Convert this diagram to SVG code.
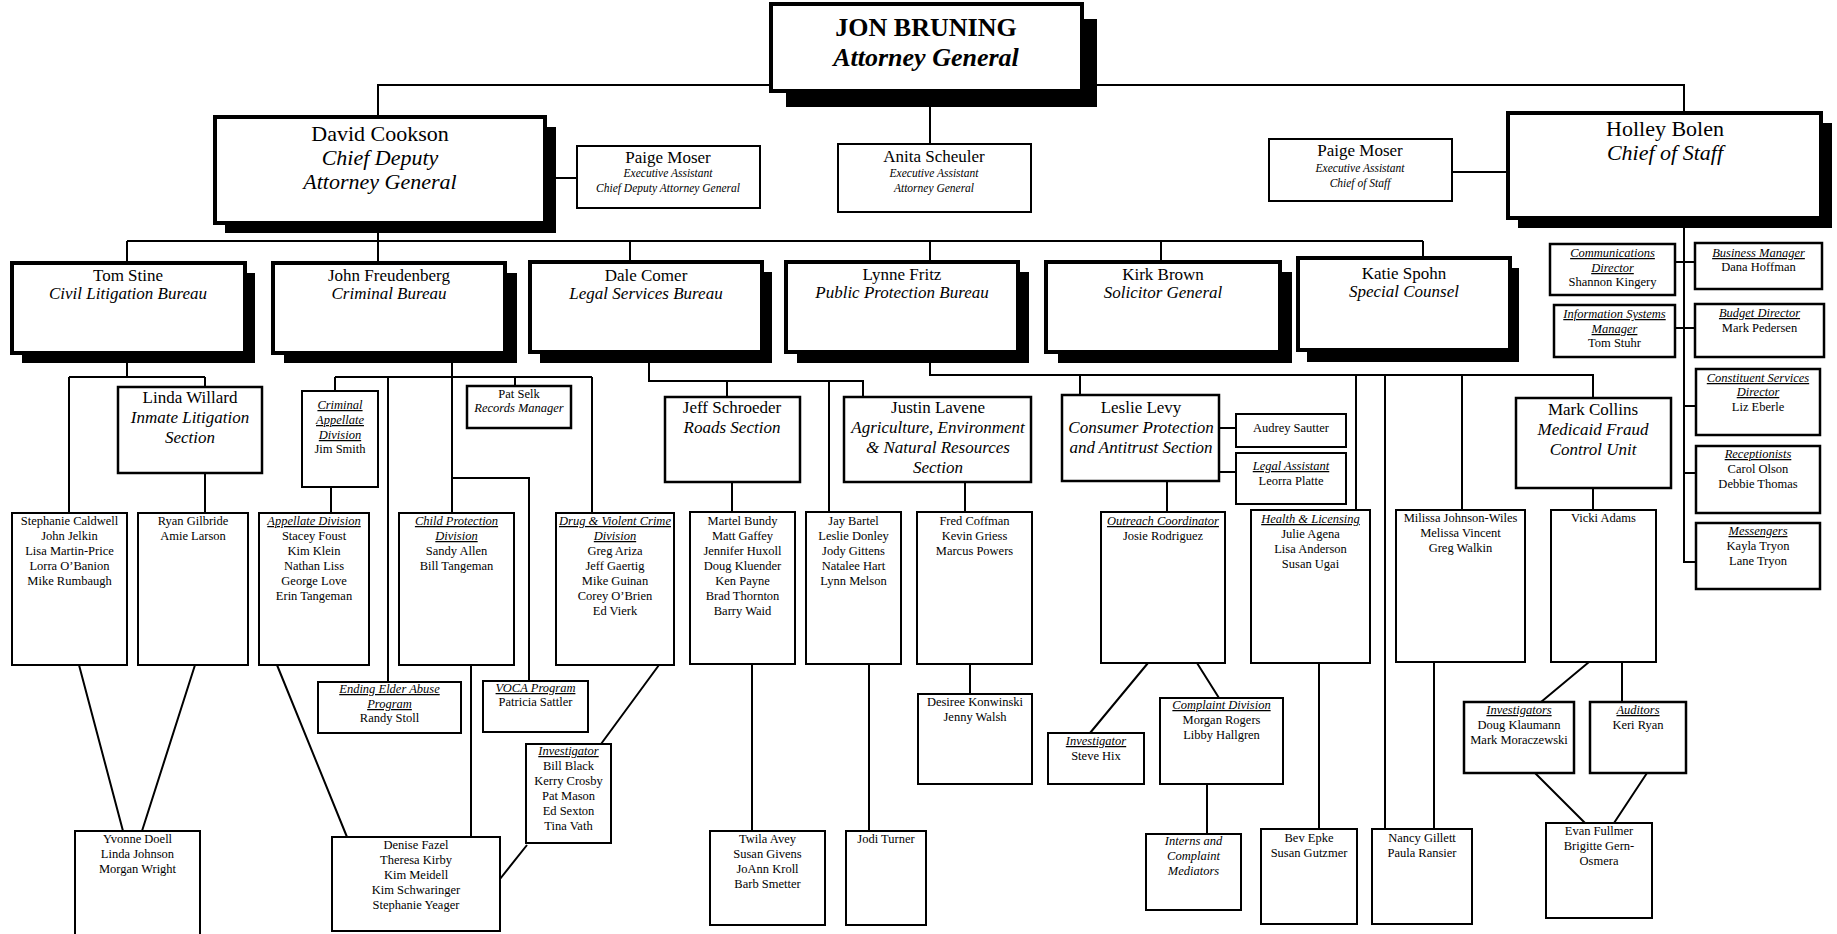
<svg xmlns="http://www.w3.org/2000/svg" width="1837" height="934" viewBox="0 0 1837 934">
<style>
text{font-family:"Liberation Serif","Times New Roman",serif;text-anchor:middle;fill:#000}
.b{fill:#fff;stroke:#000;stroke-width:4}
.m{fill:#fff;stroke:#000;stroke-width:2.5}
.s{fill:#fff;stroke:#000;stroke-width:2}
.sh{fill:#000}
.c{fill:none;stroke:#000;stroke-width:2}
.t26{font-size:26px;font-weight:bold}
.t22{font-size:22px}
.t17{font-size:17px}
.t12{font-size:12.5px}
.t11{font-size:11.5px;font-style:italic}
.i{font-style:italic}
.u{font-style:italic;text-decoration:underline}
</style>
<g id="connectors">
<path class="c" d="M378 117V85H1684V113M930 91V144M545 178H577M1452 172H1508M378 223V263M127 241H1423M127 241V263M630 241V262M930 241V262M1161 241V262M1423 241V258"/>
<path class="c" d="M127 353V377M69 377H205M69 377V513M205 377V387M205 473V513M79 665L123 831M195 665L142 831"/>
<path class="c" d="M452 353V513M335 377H592M335 377V391M388 377V682M515 377V386M592 377V513M452 478H529V681M331 487V513M277 665L347 837M471 665V837M659 665L601 744M527 845L500 879"/>
<path class="c" d="M649 350V381H863V397M727 381V397M829 381V512M732 482V512M965 482V512M752 664V831M869 664V831M970 664V694"/>
<path class="c" d="M930 352V375H1593V398M1080 375V395M1356 375V510M1385 375V829M1462 375V510M1167 481V512M1219 428H1236M1219 472H1236M1148 663L1090 733M1197 663L1219 698M1207 784V834M1319 663V829M1434 662V829"/>
<path class="c" d="M1593 488V510M1589 662L1541 702M1622 662V702M1535 773L1585 823M1647 773L1614 823"/>
<path class="c" d="M1684 218V562H1696M1675 262H1695M1675 328H1695M1684 406H1696M1684 473H1696"/>
</g>
<g id="bruning"><rect class="sh" x="786" y="19" width="311" height="88"/><rect class="b" x="771" y="4" width="311" height="87"/>
<text class="t26" x="926" y="36">JON BRUNING</text><text class="t26 i" x="926" y="66">Attorney General</text></g>
<g id="cookson"><rect class="sh" x="225" y="127" width="331" height="106"/><rect class="b" x="215" y="117" width="330" height="106"/>
<text class="t22" x="380" y="141">David Cookson</text><text class="t22 i" x="380" y="165">Chief Deputy</text><text class="t22 i" x="380" y="189">Attorney General</text></g>
<g id="moser1"><rect class="s" x="577" y="146" width="183" height="62"/>
<text class="t17" x="668" y="163">Paige Moser</text><text class="t11" x="668" y="177">Executive Assistant</text><text class="t11" x="668" y="192">Chief Deputy Attorney General</text></g>
<g id="scheuler"><rect class="s" x="838" y="144" width="193" height="68"/>
<text class="t17" x="934" y="162">Anita Scheuler</text><text class="t11" x="934" y="177">Executive Assistant</text><text class="t11" x="934" y="192">Attorney General</text></g>
<g id="moser2"><rect class="s" x="1269" y="139" width="183" height="62"/>
<text class="t17" x="1360" y="156">Paige Moser</text><text class="t11" x="1360" y="172">Executive Assistant</text><text class="t11" x="1360" y="187">Chief of Staff</text></g>
<g id="bolen"><rect class="sh" x="1518" y="123" width="314" height="105"/><rect class="b" x="1508" y="113" width="313" height="105"/>
<text class="t22" x="1665" y="136">Holley Bolen</text><text class="t22 i" x="1665" y="160">Chief of Staff</text></g>
<g id="stine"><rect class="sh" x="22" y="273" width="233" height="90"/><rect class="b" x="12" y="263" width="233" height="90"/>
<text class="t17" x="128" y="281">Tom Stine</text><text class="t17 i" x="128" y="299">Civil Litigation Bureau</text></g>
<g id="freudenberg"><rect class="sh" x="284" y="273" width="233" height="90"/><rect class="b" x="273" y="263" width="232" height="90"/>
<text class="t17" x="389" y="281">John Freudenberg</text><text class="t17 i" x="389" y="299">Criminal Bureau</text></g>
<g id="comer"><rect class="sh" x="540" y="272" width="232" height="91"/><rect class="b" x="530" y="262" width="232" height="90"/>
<text class="t17" x="646" y="281">Dale Comer</text><text class="t17 i" x="646" y="299">Legal Services Bureau</text></g>
<g id="fritz"><rect class="sh" x="797" y="272" width="232" height="91"/><rect class="b" x="786" y="262" width="232" height="90"/>
<text class="t17" x="902" y="280">Lynne Fritz</text><text class="t17 i" x="902" y="298">Public Protection Bureau</text></g>
<g id="brown"><rect class="sh" x="1058" y="272" width="234" height="91"/><rect class="b" x="1046" y="262" width="234" height="90"/>
<text class="t17" x="1163" y="280">Kirk Brown</text><text class="t17 i" x="1163" y="298">Solicitor General</text></g>
<g id="spohn"><rect class="sh" x="1307" y="268" width="212" height="94"/><rect class="b" x="1298" y="258" width="212" height="92"/>
<text class="t17" x="1404" y="279">Katie Spohn</text><text class="t17 i" x="1404" y="297">Special Counsel</text></g>
<g id="willard"><rect class="m" x="118" y="387" width="144" height="86"/>
<text class="t17" x="190" y="403">Linda Willard</text><text class="t17 i" x="190" y="423">Inmate Litigation</text><text class="t17 i" x="190" y="443">Section</text></g>
<g id="civil-staff"><rect class="s" x="12" y="513" width="115" height="152"/>
<text class="t12" x="69.5" y="525">Stephanie Caldwell</text><text class="t12" x="69.5" y="540">John Jelkin</text><text class="t12" x="69.5" y="555">Lisa Martin-Price</text><text class="t12" x="69.5" y="570">Lorra O’Banion</text><text class="t12" x="69.5" y="585">Mike Rumbaugh</text></g>
<g id="inmate-staff"><rect class="s" x="138" y="513" width="110" height="152"/>
<text class="t12" x="193" y="525">Ryan Gilbride</text><text class="t12" x="193" y="540">Amie Larson</text></g>
<g id="civil-support"><rect class="s" x="75" y="831" width="125" height="110"/>
<text class="t12" x="137.5" y="843">Yvonne Doell</text><text class="t12" x="137.5" y="858">Linda Johnson</text><text class="t12" x="137.5" y="873">Morgan Wright</text></g>
<g id="crim-appellate"><rect class="s" x="302" y="391" width="76" height="96"/>
<text class="t12 u" x="340" y="409">Criminal</text><text class="t12 u" x="340" y="424">Appellate</text><text class="t12 u" x="340" y="439">Division</text><text class="t12" x="340" y="453">Jim Smith</text></g>
<g id="selk"><rect class="m" x="467" y="386" width="104" height="42"/>
<text class="t12" x="519" y="398">Pat Selk</text><text class="t12 i" x="519" y="412">Records Manager</text></g>
<g id="appellate"><rect class="s" x="259" y="513" width="110" height="152"/>
<text class="t12 u" x="314" y="525">Appellate Division</text><text class="t12" x="314" y="540">Stacey Foust</text><text class="t12" x="314" y="555">Kim Klein</text><text class="t12" x="314" y="570">Nathan Liss</text><text class="t12" x="314" y="585">George Love</text><text class="t12" x="314" y="600">Erin Tangeman</text></g>
<g id="child-protection"><rect class="s" x="399" y="513" width="115" height="152"/>
<text class="t12 u" x="456.5" y="525">Child Protection</text><text class="t12 u" x="456.5" y="540">Division</text><text class="t12" x="456.5" y="555">Sandy Allen</text><text class="t12" x="456.5" y="570">Bill Tangeman</text></g>
<g id="drug-violent"><rect class="s" x="556" y="513" width="118" height="152"/>
<text class="t12 u" x="615" y="525">Drug &amp; Violent Crime</text><text class="t12 u" x="615" y="540">Division</text><text class="t12" x="615" y="555">Greg Ariza</text><text class="t12" x="615" y="570">Jeff Gaertig</text><text class="t12" x="615" y="585">Mike Guinan</text><text class="t12" x="615" y="600">Corey O’Brien</text><text class="t12" x="615" y="615">Ed Vierk</text></g>
<g id="elder-abuse"><rect class="s" x="318" y="682" width="143" height="51"/>
<text class="t12 u" x="389.5" y="693">Ending Elder Abuse</text><text class="t12 u" x="389.5" y="708">Program</text><text class="t12" x="389.5" y="722">Randy Stoll</text></g>
<g id="voca"><rect class="s" x="483" y="681" width="105" height="51"/>
<text class="t12 u" x="535.5" y="692">VOCA Program</text><text class="t12" x="535.5" y="706">Patricia Sattler</text></g>
<g id="crim-investigator"><rect class="s" x="526" y="744" width="85" height="99"/>
<text class="t12 u" x="568.5" y="755">Investigator</text><text class="t12" x="568.5" y="770">Bill Black</text><text class="t12" x="568.5" y="785">Kerry Crosby</text><text class="t12" x="568.5" y="800">Pat Mason</text><text class="t12" x="568.5" y="815">Ed Sexton</text><text class="t12" x="568.5" y="830">Tina Vath</text></g>
<g id="crim-support"><rect class="s" x="332" y="837" width="168" height="94"/>
<text class="t12" x="416" y="849">Denise Fazel</text><text class="t12" x="416" y="864">Theresa Kirby</text><text class="t12" x="416" y="879">Kim Meidell</text><text class="t12" x="416" y="894">Kim Schwaringer</text><text class="t12" x="416" y="909">Stephanie Yeager</text></g>
<g id="schroeder"><rect class="m" x="665" y="397" width="135" height="85"/>
<text class="t17" x="732" y="413">Jeff Schroeder</text><text class="t17 i" x="732" y="433">Roads Section</text></g>
<g id="lavene"><rect class="m" x="844" y="397" width="187" height="85"/>
<text class="t17" x="938" y="413">Justin Lavene</text><text class="t17 i" x="938" y="433">Agriculture, Environment</text><text class="t17 i" x="938" y="453">&amp; Natural Resources</text><text class="t17 i" x="938" y="473">Section</text></g>
<g id="roads-staff"><rect class="s" x="690" y="512" width="105" height="152"/>
<text class="t12" x="742.5" y="525">Martel Bundy</text><text class="t12" x="742.5" y="540">Matt Gaffey</text><text class="t12" x="742.5" y="555">Jennifer Huxoll</text><text class="t12" x="742.5" y="570">Doug Kluender</text><text class="t12" x="742.5" y="585">Ken Payne</text><text class="t12" x="742.5" y="600">Brad Thornton</text><text class="t12" x="742.5" y="615">Barry Waid</text></g>
<g id="legal-staff"><rect class="s" x="806" y="512" width="95" height="152"/>
<text class="t12" x="853.5" y="525">Jay Bartel</text><text class="t12" x="853.5" y="540">Leslie Donley</text><text class="t12" x="853.5" y="555">Jody Gittens</text><text class="t12" x="853.5" y="570">Natalee Hart</text><text class="t12" x="853.5" y="585">Lynn Melson</text></g>
<g id="agri-staff"><rect class="s" x="917" y="512" width="115" height="152"/>
<text class="t12" x="974.5" y="525">Fred Coffman</text><text class="t12" x="974.5" y="540">Kevin Griess</text><text class="t12" x="974.5" y="555">Marcus Powers</text></g>
<g id="roads-support"><rect class="s" x="710" y="831" width="115" height="94"/>
<text class="t12" x="767.5" y="843">Twila Avey</text><text class="t12" x="767.5" y="858">Susan Givens</text><text class="t12" x="767.5" y="873">JoAnn Kroll</text><text class="t12" x="767.5" y="888">Barb Smetter</text></g>
<g id="legal-support"><rect class="s" x="846" y="831" width="80" height="94"/>
<text class="t12" x="886" y="843">Jodi Turner</text></g>
<g id="agri-support"><rect class="s" x="918" y="694" width="114" height="90"/>
<text class="t12" x="975" y="706">Desiree Konwinski</text><text class="t12" x="975" y="721">Jenny Walsh</text></g>
<g id="levy"><rect class="m" x="1062" y="395" width="157" height="86"/>
<text class="t17" x="1141" y="413">Leslie Levy</text><text class="t17 i" x="1141" y="433">Consumer Protection</text><text class="t17 i" x="1141" y="453">and Antitrust Section</text></g>
<g id="sautter"><rect class="s" x="1236" y="414" width="110" height="33"/>
<text class="t12" x="1291" y="432">Audrey Sautter</text></g>
<g id="legal-assistant"><rect class="s" x="1236" y="453" width="110" height="51"/>
<text class="t12 u" x="1291" y="470">Legal Assistant</text><text class="t12" x="1291" y="485">Leorra Platte</text></g>
<g id="outreach"><rect class="s" x="1101" y="512" width="124" height="151"/>
<text class="t12 u" x="1163" y="525">Outreach Coordinator</text><text class="t12" x="1163" y="540">Josie Rodriguez</text></g>
<g id="consumer-investigator"><rect class="s" x="1048" y="733" width="96" height="51"/>
<text class="t12 u" x="1096" y="745">Investigator</text><text class="t12" x="1096" y="760">Steve Hix</text></g>
<g id="complaint"><rect class="s" x="1160" y="698" width="123" height="86"/>
<text class="t12 u" x="1221.5" y="709">Complaint Division</text><text class="t12" x="1221.5" y="724">Morgan Rogers</text><text class="t12" x="1221.5" y="739">Libby Hallgren</text></g>
<g id="interns"><rect class="s" x="1146" y="834" width="95" height="76"/>
<text class="t12 i" x="1193.5" y="845">Interns and</text><text class="t12 i" x="1193.5" y="860">Complaint</text><text class="t12 i" x="1193.5" y="875">Mediators</text></g>
<g id="health"><rect class="s" x="1251" y="510" width="119" height="153"/>
<text class="t12 u" x="1310.5" y="523">Health &amp; Licensing</text><text class="t12" x="1310.5" y="538">Julie Agena</text><text class="t12" x="1310.5" y="553">Lisa Anderson</text><text class="t12" x="1310.5" y="568">Susan Ugai</text></g>
<g id="health-support"><rect class="s" x="1261" y="829" width="96" height="95"/>
<text class="t12" x="1309" y="842">Bev Epke</text><text class="t12" x="1309" y="857">Susan Gutzmer</text></g>
<g id="protection-staff"><rect class="s" x="1396" y="510" width="129" height="152"/>
<text class="t12" x="1460.5" y="522">Milissa Johnson-Wiles</text><text class="t12" x="1460.5" y="537">Melissa Vincent</text><text class="t12" x="1460.5" y="552">Greg Walkin</text></g>
<g id="protection-support"><rect class="s" x="1372" y="829" width="100" height="95"/>
<text class="t12" x="1422" y="842">Nancy Gillett</text><text class="t12" x="1422" y="857">Paula Ransier</text></g>
<g id="collins"><rect class="m" x="1516" y="398" width="155" height="90"/>
<text class="t17" x="1593" y="415">Mark Collins</text><text class="t17 i" x="1593" y="435">Medicaid Fraud</text><text class="t17 i" x="1593" y="455">Control Unit</text></g>
<g id="adams"><rect class="s" x="1551" y="510" width="105" height="152"/>
<text class="t12" x="1603.5" y="522">Vicki Adams</text></g>
<g id="mfcu-investigators"><rect class="m" x="1464" y="702" width="110" height="71"/>
<text class="t12 u" x="1519" y="714">Investigators</text><text class="t12" x="1519" y="729">Doug Klaumann</text><text class="t12" x="1519" y="744">Mark Moraczewski</text></g>
<g id="auditors"><rect class="m" x="1590" y="702" width="96" height="71"/>
<text class="t12 u" x="1638" y="714">Auditors</text><text class="t12" x="1638" y="729">Keri Ryan</text></g>
<g id="mfcu-support"><rect class="s" x="1546" y="823" width="106" height="95"/>
<text class="t12" x="1599" y="835">Evan Fullmer</text><text class="t12" x="1599" y="850">Brigitte Gern-</text><text class="t12" x="1599" y="865">Osmera</text></g>
<g id="communications"><rect class="m" x="1550" y="244" width="125" height="51"/>
<text class="t12 u" x="1612.5" y="257">Communications</text><text class="t12 u" x="1612.5" y="272">Director</text><text class="t12" x="1612.5" y="286">Shannon Kingery</text></g>
<g id="business"><rect class="m" x="1695" y="243" width="127" height="46"/>
<text class="t12 u" x="1758.5" y="257">Business Manager</text><text class="t12" x="1758.5" y="271">Dana Hoffman</text></g>
<g id="infosys"><rect class="m" x="1554" y="305" width="121" height="52"/>
<text class="t12 u" x="1614.5" y="318">Information Systems</text><text class="t12 u" x="1614.5" y="333">Manager</text><text class="t12" x="1614.5" y="347">Tom Stuhr</text></g>
<g id="budget"><rect class="m" x="1695" y="304" width="129" height="53"/>
<text class="t12 u" x="1759.5" y="317">Budget Director</text><text class="t12" x="1759.5" y="332">Mark Pedersen</text></g>
<g id="constituent"><rect class="m" x="1696" y="369" width="124" height="66"/>
<text class="t12 u" x="1758" y="382">Constituent Services</text><text class="t12 u" x="1758" y="396">Director</text><text class="t12" x="1758" y="411">Liz Eberle</text></g>
<g id="receptionists"><rect class="m" x="1696" y="446" width="124" height="67"/>
<text class="t12 u" x="1758" y="458">Receptionists</text><text class="t12" x="1758" y="473">Carol Olson</text><text class="t12" x="1758" y="488">Debbie Thomas</text></g>
<g id="messengers"><rect class="m" x="1696" y="523" width="124" height="66"/>
<text class="t12 u" x="1758" y="535">Messengers</text><text class="t12" x="1758" y="550">Kayla Tryon</text><text class="t12" x="1758" y="565">Lane Tryon</text></g>
</svg>
